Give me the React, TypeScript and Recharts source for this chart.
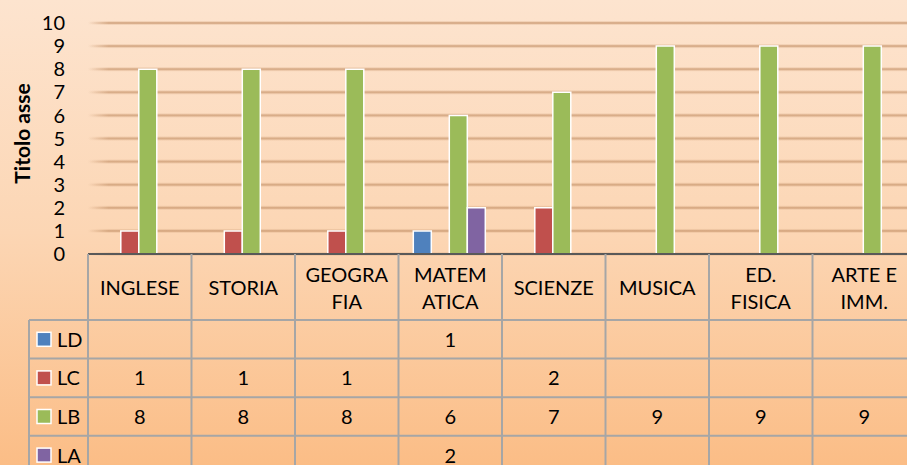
import React from "react";
import { BarChart, Bar, XAxis, YAxis, CartesianGrid, Label } from "recharts";

// categories and wrapped header text as shown in the data table
const categories = ["INGLESE", "STORIA", "GEOGRAFIA", "MATEMATICA", "SCIENZE", "MUSICA", "ED. FISICA", "ARTE E IMM."];
const headerLines = [["INGLESE"], ["STORIA"], ["GEOGRA", "FIA"], ["MATEM", "ATICA"], ["SCIENZE"], ["MUSICA"], ["ED.", "FISICA"], ["ARTE E", "IMM."]];

const ldValues = [null, null, null, 1, null, null, null, null];
const lcValues = [1, 1, 1, null, 2, null, null, null];
const lbValues = [8, 8, 8, 6, 7, 9, 9, 9];
const laValues = [null, null, null, 2, null, null, null, null];

const yTicks = [0, 1, 2, 3, 4, 5, 6, 7, 8, 9, 10];

const series = [
  { key: "LD", values: ldValues, color: "#4F81BD" },
  { key: "LC", values: lcValues, color: "#C0504D" },
  { key: "LB", values: lbValues, color: "#9BBB59" },
  { key: "LA", values: laValues, color: "#8064A2" },
];

const data = categories.map((name, i) => {
  const row: { [k: string]: string | number | null } = { name };
  series.forEach((s) => {
    row[s.key] = s.values[i];
  });
  return row;
});

// layout
const CHART_W = 916;
const CHART_H = 465;
const PLOT_LEFT = 88;
const TOP = 23;
const TABLE_H = 211;
const COL_W = (CHART_W - PLOT_LEFT) / categories.length;
const HEADER_H = 66;
const ROW_H = 38.6;
const KEY_LEFT = 29;
const FONT = "Lato, 'Open Sans', sans-serif";
const TEXT_SIZE = 20;
const LINE_COLOR = "#A6A6A6";

const GridLine = (props: any) => {
  const { x1, x2, y1, index } = props;
  return (
    <g key={`grid-${index}`}>
      <rect x={x1} y={y1 - 2} width={x2 - x1} height={4} fill="url(#gridSoft)" />
      <rect x={x1} y={y1 - 1} width={x2 - x1} height={2} fill="url(#gridCore)" />
    </g>
  );
};

const TableTick = (props: any) => {
  const { x, y, payload } = props;
  const i = payload.index;
  const left = x - COL_W / 2;
  const lines = headerLines[i];
  const headerMid = y + HEADER_H / 2;
  const lh = 27;
  return (
    <g fontFamily={FONT} fontSize={TEXT_SIZE} fill="#000">
      {i === 0 && (
        <g>
          {series.map((s, r) => {
            const top = y + HEADER_H + r * ROW_H;
            return (
              <g key={s.key}>
                <line x1={KEY_LEFT} x2={CHART_W} y1={top} y2={top} stroke={LINE_COLOR} strokeWidth={2} />
                <rect x={37} y={top + ROW_H / 2 - 7} width={14} height={14} fill={s.color} stroke="#fff" strokeWidth={1.5} />
                <text x={57} y={top + ROW_H / 2 - 0.5} dominantBaseline="central" fill="#000">
                  {s.key}
                </text>
              </g>
            );
          })}
          <line x1={KEY_LEFT} x2={KEY_LEFT} y1={y + HEADER_H} y2={CHART_H} stroke={LINE_COLOR} strokeWidth={2} />
        </g>
      )}
      <line x1={left} x2={left} y1={y} y2={CHART_H} stroke={LINE_COLOR} strokeWidth={2} />
      {lines.map((t, k) => (
        <text
          key={t}
          x={x}
          y={headerMid + (k - (lines.length - 1) / 2) * lh}
          textAnchor="middle"
          dominantBaseline="central"
          fill="#000"
        >
          {t}
        </text>
      ))}
      {series.map((s, r) =>
        s.values[i] == null ? null : (
          <text
            key={s.key}
            x={x}
            y={y + HEADER_H + r * ROW_H + ROW_H / 2 - 0.5}
            textAnchor="middle"
            dominantBaseline="central"
            fill="#000"
          >
            {s.values[i]}
          </text>
        )
      )}
    </g>
  );
};

const App = () => {
  return (
    <div
      style={{
        position: "absolute",
        left: 0,
        top: 0,
        width: 907,
        height: 465,
        overflow: "hidden",
        background: "linear-gradient(180deg, #FDE4CF 0%, #FCD6B4 50%, #FBBD86 100%)",
      }}
    >
      <BarChart
        width={CHART_W}
        height={CHART_H}
        data={data}
        margin={{ top: TOP, right: 0, bottom: 0, left: 0 }}
        barCategoryGap="14.3%"
        barGap={0}
      >
        <defs>
          <linearGradient id="gridCore" x1="0" x2="1" y1="0" y2="0">
            <stop offset="0" stopColor="#C08C62" stopOpacity={0} />
            <stop offset="0.025" stopColor="#C08C62" stopOpacity={0.5} />
            <stop offset="1" stopColor="#C08C62" stopOpacity={0.5} />
          </linearGradient>
          <linearGradient id="gridSoft" x1="0" x2="1" y1="0" y2="0">
            <stop offset="0" stopColor="#D8AA84" stopOpacity={0} />
            <stop offset="0.025" stopColor="#D8AA84" stopOpacity={0.3} />
            <stop offset="1" stopColor="#D8AA84" stopOpacity={0.3} />
          </linearGradient>
        </defs>
        <CartesianGrid vertical={false} horizontal={GridLine} />
        <XAxis
          dataKey="name"
          height={TABLE_H}
          interval={0}
          tickLine={false}
          tickSize={0}
          tickMargin={0}
          axisLine={{ stroke: "#595959", strokeWidth: 2 }}
          tick={<TableTick />}
        />
        <YAxis
          width={PLOT_LEFT}
          domain={[0, 10]}
          ticks={yTicks}
          interval={0}
          axisLine={false}
          tickLine={false}
          tickSize={0}
          tickMargin={23}
          tick={{ fill: "#000", fontSize: TEXT_SIZE, fontFamily: FONT }}
        >
          <Label
            content={(p: any) => {
              const vb = p.viewBox;
              const cx = 21;
              const cy = vb.y + vb.height / 2 - 5;
              return (
                <text
                  transform={`translate(${cx},${cy}) rotate(-90)`}
                  textAnchor="middle"
                  dominantBaseline="central"
                  fontFamily={FONT}
                  fontSize={21}
                  fontWeight="bold"
                  fill="#000"
                >
                  Titolo asse
                </text>
              );
            }}
          />
        </YAxis>
        {series.map((s) => (
          <Bar
            key={s.key}
            dataKey={s.key}
            fill={s.color}
            stroke="#fff"
            strokeWidth={1.5}
            isAnimationActive={false}
          />
        ))}
      </BarChart>
    </div>
  );
};

export default App;
